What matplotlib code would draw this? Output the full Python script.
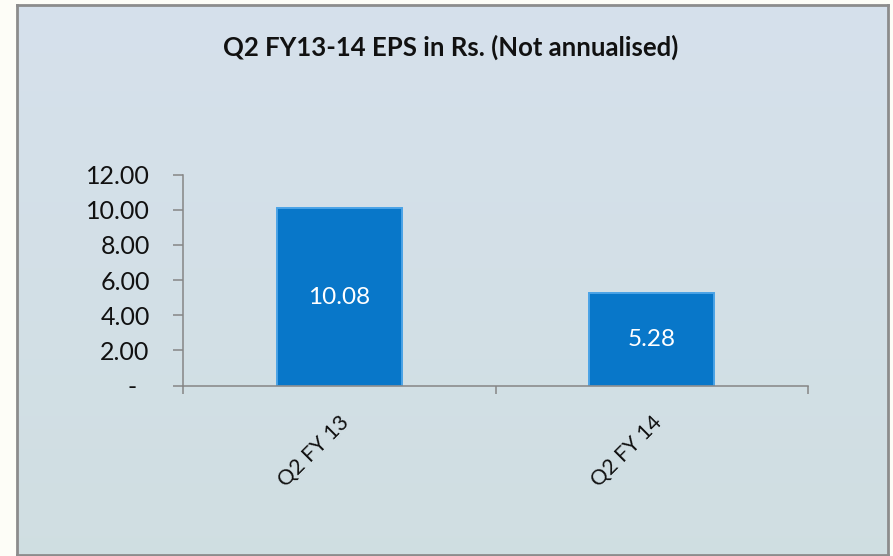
import matplotlib.pyplot as plt
import numpy as np

# data
categories = ['Q2 FY 13', 'Q2 FY 14']
eps = [10.08, 5.28]
y_ticks = [0, 2, 4, 6, 8, 10, 12]
y_labels = ['-  ', '2.00', '4.00', '6.00', '8.00', '10.00', '12.00']
title = 'Q2 FY13-14 EPS in Rs. (Not annualised)'

plt.rcParams['font.family'] = ['Lato', 'DejaVu Sans']

fig = plt.figure(figsize=(8.93, 5.56), dpi=100)
fig.patch.set_facecolor('#fdfdf7')

# panel background with a soft vertical gradient
bg = fig.add_axes([17 / 893, 1 - 555 / 556, (888 - 17) / 893, (555 - 5) / 556], zorder=0)
grad = np.linspace(0, 1, 256).reshape(-1, 1)
top = np.array([0.839, 0.882, 0.925])
bot = np.array([0.815, 0.872, 0.885])
img = top + (bot - top) * grad[..., None]
bg.imshow(img, aspect='auto', extent=[0, 1, 0, 1])
bg.set_xticks([])
bg.set_yticks([])
for s in bg.spines.values():
    s.set_color('#8c8c8c')
    s.set_linewidth(2)

fig.text(451 / 893, 1 - 47 / 556, title, ha='center', va='center',
         fontsize=18.5, fontweight='bold', color='#111111')

ax = fig.add_axes([183 / 893, 1 - 385.6 / 556, (808 - 183) / 893, (385.6 - 174.7) / 556], zorder=1)
ax.patch.set_alpha(0)

x = np.arange(len(categories))
bars = ax.bar(x, eps, width=0.40, color='#0877c9', edgecolor='#4aa3e6', linewidth=1.4, zorder=2)
for b, v in zip(bars, eps):
    ax.text(b.get_x() + b.get_width() / 2, v / 2, f'{v:.2f}', ha='center', va='center',
            color='white', fontsize=17.5, zorder=3)

ax.set_xlim(-0.5, len(categories) - 0.5)
ax.set_ylim(0, 12)
ax.set_yticks(y_ticks)
ax.set_yticklabels(y_labels, fontsize=18, color='#111111')
ax.tick_params(axis='y', length=7, width=1.1, color='#868686', pad=17, direction='out')

ax.set_xticks(x)
ax.set_xticklabels(categories, rotation=45, ha='right', rotation_mode='anchor',
                   fontsize=15.5, color='#111111')
ax.tick_params(axis='x', length=0, pad=19)
ax.set_xticks(np.arange(-0.5, len(categories)), minor=True)
ax.tick_params(axis='x', which='minor', length=6, width=1.1, color='#868686', direction='out')

for side in ['top', 'right']:
    ax.spines[side].set_visible(False)
for side in ['left', 'bottom']:
    ax.spines[side].set_color('#868686')
    ax.spines[side].set_linewidth(1.1)

fig.savefig('out.png', dpi=100, facecolor=fig.get_facecolor())
